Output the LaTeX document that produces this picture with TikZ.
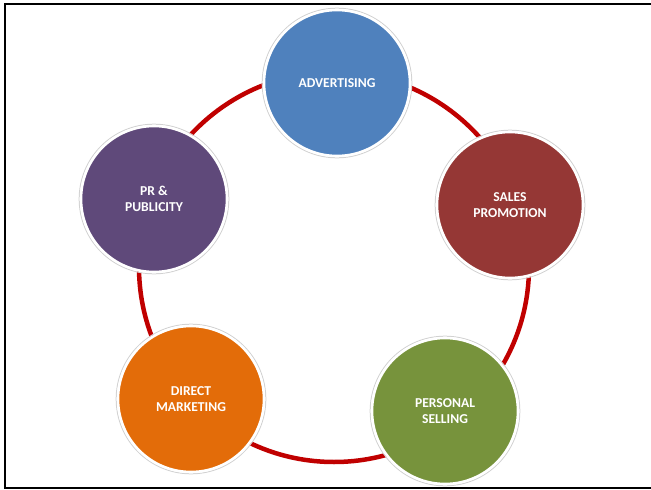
\documentclass[tikz,border=0pt]{standalone}
\usepackage{fontspec}
\setmainfont{Carlito}
\begin{document}
\begin{tikzpicture}[x=1pt,y=-1pt,
  ring/.style={draw=ringred,line width=4.5pt},
  bubble/.style={circle,minimum size=146pt,inner sep=0pt,draw=white,line width=2.6pt,
    text=white,font=\bfseries\fontsize{13.6}{16}\selectfont,align=center},
  halo/.style={draw=black!18,line width=1pt},
  frame/.style={draw=black,line width=2pt}]
\definecolor{ringred}{HTML}{C00000}
\definecolor{cblue}{HTML}{4F81BD}
\definecolor{cred}{HTML}{953735}
\definecolor{cgreen}{HTML}{77933C}
\definecolor{corange}{HTML}{E36C09}
\definecolor{cpurple}{HTML}{5F497A}
\useasboundingbox (0,0) rectangle (651,490);
% outer frame, open on the right
\draw[frame] (651,4) -- (5,4) -- (5,488) -- (651,488);
% connecting ring
\coordinate (hub) at (334,267);
\draw[ring] (hub) circle[radius=195];
% soft outline behind each bubble
\foreach \cx/\cy in {337/83,510/205,445/411,191/399,154/199}
  \draw[halo] (\cx,\cy) circle[radius=74.8];
\node[bubble,fill=cblue]   (adv)    at (337,83)  {ADVERTISING};
\node[bubble,fill=cred]    (sales)  at (510,205) {SALES\\PROMOTION};
\node[bubble,fill=cgreen]  (pers)   at (445,411) {PERSONAL\\SELLING};
\node[bubble,fill=corange] (direct) at (191,399) {DIRECT\\MARKETING};
\node[bubble,fill=cpurple] (pr)     at (154,199) {PR \&\\PUBLICITY};
\end{tikzpicture}
\end{document}
